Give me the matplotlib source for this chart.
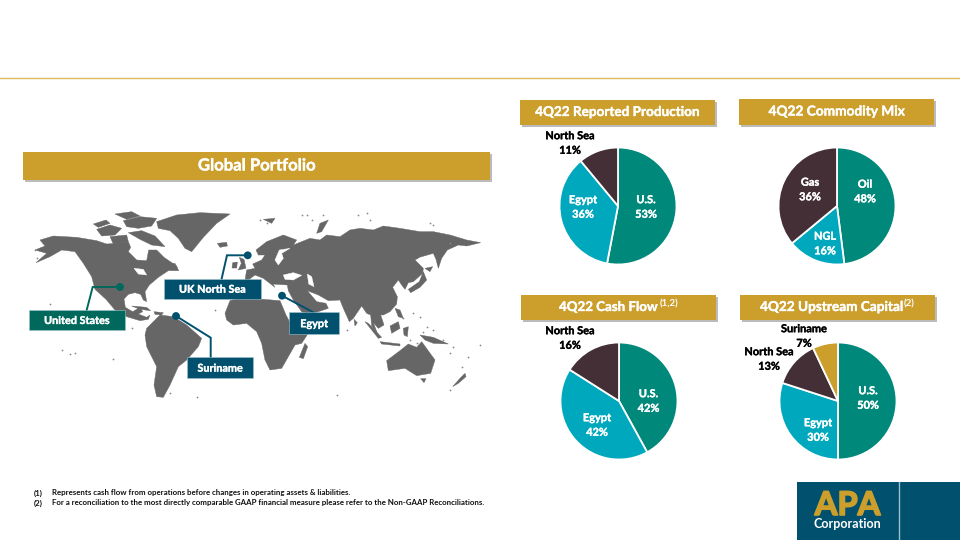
import matplotlib
matplotlib.use("Agg")
import matplotlib.pyplot as plt
import matplotlib.patheffects as pe
from matplotlib.patches import Rectangle, Polygon, Circle

plt.rcParams['font.family'] = ['Lato', 'DejaVu Sans']
plt.rcParams['font.weight'] = 'bold'

GOLD = '#CC9F2C'; TEAL = '#00897B'; CYAN = '#00A8BE'; DARK = '#452F37'
NAVY = '#00506E'; GREEN = '#00695C'; GREY = '#666666'

# ---- chart data
prod_values = [53, 36, 11]
prod_labels = ['U.S.\n53%', 'Egypt\n36%', 'North Sea\n11%']
mix_values = [48, 16, 36]
mix_labels = ['Oil\n48%', 'NGL\n16%', 'Gas\n36%']
cash_values = [42, 42, 16]
cash_labels = ['U.S.\n42%', 'Egypt\n42%', 'North Sea\n16%']
capital_values = [50, 30, 13, 7]
capital_labels = ['U.S.\n50%', 'Egypt\n30%', 'North Sea\n13%', 'Suriname\n7%']

W, H = 960, 540
fig = plt.figure(figsize=(9.6, 5.4), dpi=100, facecolor='white')

def px_axes(z):
    a = fig.add_axes([0, 0, 1, 1], zorder=z)
    a.set_xlim(0, W); a.set_ylim(H, 0); a.axis('off'); a.patch.set_alpha(0)
    return a

bg = px_axes(0)
top = px_axes(2)

def heavy(color, w=0.25):
    return [pe.withStroke(linewidth=w, foreground=color)]

# ---- rule
bg.plot([0, W], [78, 78], color='#DDB95A', lw=1.0)

# ---- map: traced outlines, in 3x zoom coordinates of the map region
LAND = [
    # North America
    [(120,120),(160,108),(230,112),(290,122),(320,132),(350,130),(385,125),(392,142),(385,155),(410,180),(440,182),(446,150),(470,150),(492,172),(530,198),(536,212),(505,212),(475,232),(448,255),(435,275),(440,305),(430,300),(422,283),(405,278),(385,283),(372,297),(376,322),(398,335),(420,322),(428,335),(415,342),(440,352),(450,345),(445,358),(420,362),(380,350),(345,330),(318,298),(285,268),(275,230),(250,190),(225,155),(185,150),(150,170),(108,188),(140,160),(105,150),(135,138)],
    # Arctic islands
    [(290,88),(330,75),(365,85),(345,105),(305,108)],
    [(370,62),(420,50),(470,55),(455,78),(415,85),(380,80)],
    [(385,98),(425,92),(465,108),(495,140),(455,135),(420,118)],
    [(345,42),(395,35),(420,48),(380,58)],
    [(280,72),(318,60),(330,70),(295,82)],
    [(330,110),(380,105),(385,125),(340,132)],
    [(500,195),(525,190),(530,203),(508,208)],
    # Greenland
    [(470,65),(530,45),(600,38),(690,42),(650,70),(610,112),(575,155),(555,145),(535,115),(510,92),(475,85)],
    # Iceland, Ireland, Britain
    [(652,130),(680,127),(682,138),(660,142)],
    [(698,188),(712,186),(710,204),(696,204)],
    [(718,172),(732,178),(738,205),(715,210),(724,190)],
    # Caribbean
    [(395,318),(440,322),(452,332),(420,328)],
    [(462,335),(490,338),(485,345),(465,343)],
    # South America
    [(440,385),(480,345),(520,350),(560,375),(605,415),(595,440),(560,480),(535,500),(510,555),(490,592),(470,590),(462,555),(470,500),(440,440),(435,405)],
    # Africa
    [(675,340),(690,302),(730,290),(790,298),(840,302),(858,345),(885,395),(930,392),(905,430),(885,435),(865,470),(845,505),(810,510),(795,480),(785,430),(770,395),(740,370),(700,375),(680,360)],
    # Madagascar
    [(915,430),(923,440),(910,476),(898,472)],
    # Eurasia
    [(735,240),(740,210),(765,205),(758,192),(785,180),(795,165),(775,165),(768,150),(800,125),(850,105),(890,120),(880,135),(905,125),(930,115),(960,120),(980,105),(1020,110),(1050,90),(1080,85),(1120,90),(1150,78),(1200,85),(1260,95),(1300,95),(1350,105),(1400,120),(1442,128),(1400,138),(1375,135),(1342,150),(1325,175),(1315,205),(1308,178),(1300,160),(1265,170),(1245,180),(1270,205),(1268,220),(1240,245),(1225,248),(1215,268),(1205,255),(1195,240),(1178,262),(1192,290),(1190,312),(1170,335),(1150,345),(1142,345),(1152,375),(1135,385),(1120,368),(1132,400),(1115,378),(1112,345),(1100,340),(1085,318),(1060,355),(1048,365),(1030,325),(1020,300),(985,302),(955,285),(922,272),(950,305),(978,310),(985,325),(925,345),(905,335),(880,300),(865,272),(862,255),(815,252),(800,225),(825,262),(790,235),(765,225),(745,240)],
    # Japan
    [(1225,268),(1258,245),(1270,215),(1280,240),(1260,262),(1232,278)],
    [(1275,205),(1298,200),(1290,215)],
    # Sumatra, Java, Borneo, Sulawesi, Philippines, New Guinea
    [(1095,365),(1105,370),(1145,412),(1135,415)],
    [(1140,425),(1200,432),(1200,438),(1145,432)],
    [(1170,378),(1195,365),(1200,385),(1175,400)],
    [(1210,385),(1225,380),(1222,410),(1212,405)],
    [(1185,325),(1200,330),(1210,355),(1195,350)],
    [(1260,405),(1300,412),(1345,432),(1300,430),(1275,420)],
    # Australia, Tasmania, New Zealand
    [(1160,482),(1200,452),(1225,432),(1250,442),(1265,425),(1305,480),(1292,520),(1250,527),(1215,505),(1165,512)],
    [(1262,536),(1278,536),(1272,548)],
    [(1395,520),(1398,530),(1375,550),(1358,560),(1380,535)],
    # Sri Lanka
    [(1062,358),(1072,368),(1065,378)],
    # Novaya Zemlya, Svalbard
    [(960,70),(985,60),(965,95),(950,100)],
    [(790,58),(825,55),(815,70)],
]
WATER = [
    [(850,225),(880,218),(905,226),(880,240),(855,238)],
    [(922,222),(935,230),(942,260),(926,252)],
    [(825,180),(838,150),(870,145),(845,160),(850,175),(835,195)],
    [(402,205),(430,208),(440,225),(415,222)],
    [(1250,180),(1262,172),(1268,198)],
]
SPECKS = [(150,312),(185,450),(225,460),(340,478),(395,385),(645,330),(590,592),(510,578),(1010,585),(1350,570),
          (1385,500),(1440,435),(1300,75),(1290,70),(920,45),(970,45),(1075,45),(1110,60),(1350,130),(1250,430),
          (1280,380),(1300,390),(1330,420),(1350,460),(105,150),(110,175),(1240,340),(1260,350),(1100,40),(905,45),
          (1270,395),(1360,440),(1405,470),(210,462),(1210,355),(1230,420),(1040,390),(780,60),(800,70),(935,60)]
for poly in LAND:
    bg.add_patch(Polygon([(x / 3, 200 + y / 3) for x, y in poly], closed=True, fc=GREY, ec=GREY, lw=0.3))
for poly in WATER:
    bg.add_patch(Polygon([(x / 3, 200 + y / 3) for x, y in poly], closed=True, fc='white', ec='white', lw=0.3))
bg.scatter([x / 3 for x, y in SPECKS], [200 + y / 3 for x, y in SPECKS], s=1.6, c='#888888', linewidths=0)

# ---- gold headers
def header(x0, x1, y0, y1, txt, size, sup=None, txt_x=None, sup_x=None):
    bg.add_patch(Rectangle((x0 + 2, y0 + 2), x1 - x0, y1 - y0, fc='#BBBBBB', ec='none'))
    bg.add_patch(Rectangle((x0, y0), x1 - x0, y1 - y0, fc=GOLD, ec='none'))
    if sup is None:
        top.text((x0 + x1) / 2, (y0 + y1) / 2 - 0.5, txt, color='white', fontsize=size, ha='center', va='center',
                 path_effects=heavy('white'))
    else:
        top.text(txt_x, (y0 + y1) / 2 - 0.5, txt, color='white', fontsize=size, ha='left', va='center',
                 path_effects=heavy('white'))
        top.text(sup_x, (y0 + y1) / 2 - 3.5, sup, color='white', fontsize=size * 0.72, ha='left', va='center')

header(23, 490, 152, 180, 'Global Portfolio', 12)
header(520, 715, 100, 125, '4Q22 Reported Production', 9.75)
header(739, 934, 99, 125, '4Q22 Commodity Mix', 9.85)
header(521, 716, 295, 320, '4Q22 Cash Flow', 9.6, '(1,2)', 559, 660)
header(740, 935, 295, 320, '4Q22 Upstream Capital', 9.8, '(2)', 760, 904)

# ---- pies
def pie(cx, cy, r, values, colors):
    ax = fig.add_axes([(cx - r) / W, 1 - (cy + r) / H, 2 * r / W, 2 * r / H], zorder=1)
    ax.pie(values, colors=colors, startangle=90, counterclock=False, radius=1,
           wedgeprops=dict(edgecolor='white', linewidth=1.3))
    ax.set_xlim(-1, 1); ax.set_ylim(-1, 1); ax.set_aspect('equal')

pie(618, 206, 58.5, prod_values, [TEAL, CYAN, DARK])
pie(837, 206, 58.5, mix_values, [TEAL, CYAN, DARK])
pie(619, 401, 58.5, cash_values, [TEAL, CYAN, DARK])
pie(838, 401, 58.5, capital_values, [TEAL, CYAN, DARK, GOLD])

def labels(texts, spots, colors):
    for t, (x, y), c in zip(texts, spots, colors):
        top.text(x, y, t, color=c, fontsize=7.9, ha='center', va='center', linespacing=1.4,
                 path_effects=heavy(c))

labels(prod_labels, [(646, 207), (583, 207), (570, 143)], ['white', 'white', 'black'])
labels(mix_labels, [(865, 191.5), (825, 243.5), (810, 189.5)], ['white'] * 3)
labels(cash_labels, [(648.5, 401), (597, 425), (570, 338)], ['white', 'white', 'black'])
labels(capital_labels, [(868, 398), (818, 430), (769, 359), (804, 336)], ['white', 'white', 'black', 'black'])

# ---- callouts
def callout(box, txt, color, path):
    xs, ys = zip(*path)
    bg.plot(xs, ys, color=color, lw=1.4, solid_joinstyle='miter', zorder=3)
    bg.add_patch(Circle(path[0], 3.9, fc=color, ec='none', zorder=4))
    x0, x1, y0, y1 = box
    bg.add_patch(Rectangle((x0, y0), x1 - x0, y1 - y0, fc=color, ec='#9FC4CC', lw=0.4, zorder=4))
    top.text((x0 + x1) / 2, (y0 + y1) / 2 + 0.5, txt, color='white', fontsize=7.8, ha='center', va='center',
             path_effects=heavy('white'))

callout((29, 125, 310, 330), 'United States', GREEN, [(120, 287), (92.7, 287), (86.7, 310)])
callout((164, 261, 278.5, 299), 'UK North Sea', NAVY, [(247.7, 255.3), (227, 255.3), (221.7, 278.5)])
callout((289, 339.3, 312.3, 334), 'Egypt', NAVY, [(282, 295.7), (313.3, 312.3)])
callout((187.3, 253.3, 357, 378.3), 'Suriname', NAVY, [(176, 316), (210.7, 337.7), (210.7, 357)])

# ---- footnotes
notes = [('(1)', 'Represents cash flow from operations before changes in operating assets & liabilities.'),
         ('(2)', 'For a reconciliation to the most directly comparable GAAP financial measure please refer to the Non-GAAP Reconciliations.')]
for (n, t), y in zip(notes, (493, 503)):
    top.text(34, y, n, color='#111111', fontsize=5.65, ha='left', va='center')
    top.text(52, y, t, color='#111111', fontsize=5.65, ha='left', va='center')

# ---- logo
bg.add_patch(Rectangle((797, 482), 163, 58, fc=NAVY, ec='none'))
bg.plot([899, 899], [482, 540], color='#9FBFCB', lw=1.0)
top.text(847.5, 505.5, 'APA', color=GOLD, fontsize=23.5, ha='center', va='center',
         path_effects=[pe.withStroke(linewidth=1.2, foreground=GOLD)])
top.text(847, 524.5, 'Corporation', color='white', fontsize=9, ha='center', va='center')

fig.savefig('out.png', dpi=100)
